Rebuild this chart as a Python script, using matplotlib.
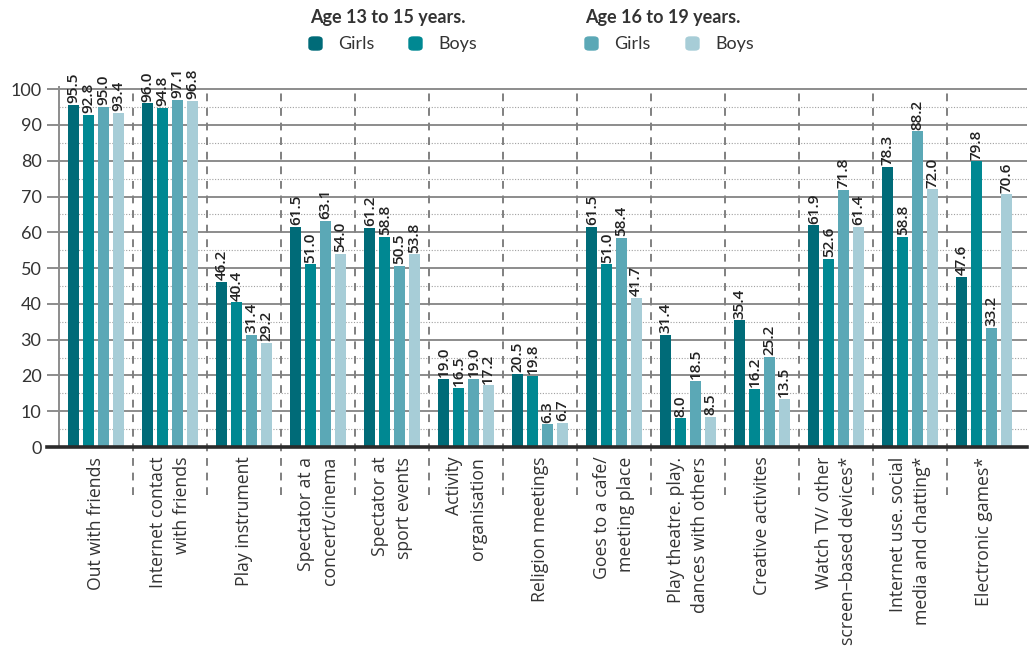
import numpy as np
import matplotlib.pyplot as plt
from matplotlib.patches import FancyBboxPatch

plt.rcParams['font.family'] = ['Lato', 'DejaVu Sans']

# Data
categories = ["Out with friends", "Internet contact\nwith friends", "Play instrument",
              "Spectator at a\nconcert/cinema", "Spectator at\nsport events",
              "Activity\norganisation", "Religion meetings", "Goes to a cafe/\nmeeting place",
              "Play theatre. play.\ndances with others", "Creative activites",
              "Watch TV/ other\nscreen\u2013based devices*", "Internet use. social\nmedia and chatting*",
              "Electronic games*"]
girls_13_15 = [95.5, 96.0, 46.2, 61.5, 61.2, 19.0, 20.5, 61.5, 31.4, 35.4, 61.9, 78.3, 47.6]
boys_13_15 = [92.8, 94.8, 40.4, 51.0, 58.8, 16.5, 19.8, 51.0, 8.0, 16.2, 52.6, 58.8, 79.8]
girls_16_19 = [95.0, 97.1, 31.4, 63.1, 50.5, 19.0, 6.3, 58.4, 18.5, 25.2, 71.8, 88.2, 33.2]
boys_16_19 = [93.4, 96.8, 29.2, 54.0, 53.8, 17.2, 6.7, 41.7, 8.5, 13.5, 61.4, 72.0, 70.6]

series = [girls_13_15, boys_13_15, girls_16_19, boys_16_19]
colors = ['#006b78', '#008892', '#5ba8b6', '#a7cdd7']
txt = '#333333'
body_font = ['Open Sans', 'DejaVu Sans']

fig = plt.figure(figsize=(10.3, 6.59), dpi=100)
ax = fig.add_axes([59 / 1030, 1 - 447 / 659, 968 / 1030, 360 / 659])

x = np.arange(len(categories))
stride = 0.2
width = 0.15
for i, (vals, c) in enumerate(zip(series, colors)):
    xs = x + (i - 1.5) * stride
    ax.bar(xs, vals, width=width, color=c, zorder=3)
    for xi, v in zip(xs, vals):
        ax.text(xi, v + 0.5, f"{v:.1f}", rotation=90, ha='center', va='bottom',
                fontsize=11, color='#222222', zorder=4, family=body_font,
                fontweight='semibold')

ax.set_xlim(-0.5, 12.58)
ax.set_ylim(0, 100.6)

# grid
for y in range(5, 100, 10):
    ax.axhline(y, color='#a0a0a0', lw=0.8, ls=(0, (1, 1.5)), zorder=1)
ax.set_yticks(range(0, 101, 10))
ax.yaxis.grid(True, color='#8c8c8c', lw=1.4, zorder=1)
ax.tick_params(axis='y', length=8.6, width=1.4, color='#8c8c8c', labelsize=13,
               labelcolor=txt, pad=4)

# group separators
for b in np.arange(0.5, 12.5, 1):
    ax.plot([b, b], [-13.4, 100.6], color='#808080', lw=1.4, ls=(0, (4, 3.5)),
            clip_on=False, zorder=2)

for s in ['top', 'right', 'bottom']:
    ax.spines[s].set_visible(False)
ax.spines['left'].set_color('#8c8c8c')
ax.spines['left'].set_linewidth(1.4)
ax.plot([-12 / 968, 1], [0, 0], transform=ax.transAxes, color='#2b2b2b', lw=2.6,
        clip_on=False, zorder=5)

ax.set_xticks(x)
ax.set_xticklabels(categories, rotation=90, va='top', ha='center',
                   multialignment='right', fontsize=12.7, color=txt, linespacing=1.45,
                   family=body_font)
ax.tick_params(axis='x', length=0, pad=7)

# legend drawn by hand
def swatch(xp, yp, color):
    fig.patches.append(FancyBboxPatch((xp / 1030, 1 - (yp + 13) / 659), 13 / 1030, 13 / 659,
                                      boxstyle="round,pad=0,rounding_size=0.004",
                                      transform=fig.transFigure, color=color))

fig.text(310 / 1030, 1 - 17 / 659, "Age 13 to 15 years.", fontsize=13, fontweight='bold',
         color=txt, va='center')
fig.text(585 / 1030, 1 - 17 / 659, "Age 16 to 19 years.", fontsize=13, fontweight='bold',
         color=txt, va='center')
for xp, lab, c in [(309, "Girls", colors[0]), (409, "Boys", colors[1]),
                   (585, "Girls", colors[2]), (686, "Boys", colors[3])]:
    swatch(xp, 37, c)
    fig.text((xp + 29) / 1030, 1 - 44 / 659, lab, fontsize=13, color=txt, va='center')

fig.savefig('out.png', dpi=100)
